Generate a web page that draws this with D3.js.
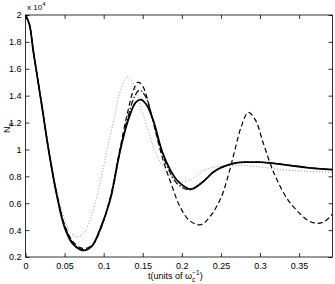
<!DOCTYPE html>
<html><head><meta charset="utf-8">
<script src="https://cdn.jsdelivr.net/npm/d3@7"></script>
<style>body{margin:0;background:#fff}svg{display:block}text{font-family:"Liberation Sans",Arial,sans-serif}</style>
</head><body><svg id="c" width="335" height="284"></svg>
<script>
const xTicks = [0, 0.05, 0.1, 0.15, 0.2, 0.25, 0.3, 0.35];
const yTicks = [0.2, 0.4, 0.6, 0.8, 1, 1.2, 1.4, 1.6, 1.8, 2];
const xMax = 0.3927;

const tSolid = [0,0.005,0.01,0.02,0.03,0.04,0.05,0.06,0.07,0.076,0.085,0.095,0.108,0.121,0.132,0.141,0.148,0.155,0.1635,0.175,0.185,0.1955,0.211,0.225,0.24,0.25,0.265,0.28,0.30,0.32,0.34,0.36,0.3927];
const vSolid = [2.0,1.93,1.73,1.36,0.98,0.66,0.42,0.30,0.255,0.25,0.28,0.40,0.62,0.99,1.23,1.35,1.37,1.33,1.215,0.98,0.85,0.76,0.705,0.75,0.83,0.865,0.895,0.905,0.905,0.895,0.88,0.865,0.85];

const tDashDot = [0,0.005,0.01,0.02,0.03,0.04,0.05,0.06,0.07,0.077,0.086,0.096,0.11,0.12,0.13,0.14,0.146,0.153,0.162,0.172,0.183,0.195,0.21,0.225,0.24,0.25,0.265,0.28,0.30,0.32,0.34,0.36,0.3927];
const vDashDot = [2.0,1.93,1.73,1.36,0.98,0.665,0.43,0.31,0.26,0.255,0.29,0.41,0.66,0.96,1.22,1.40,1.44,1.40,1.24,1.03,0.85,0.74,0.70,0.75,0.83,0.865,0.895,0.905,0.905,0.895,0.88,0.865,0.85];

const tDashed = [0,0.005,0.01,0.02,0.03,0.04,0.05,0.06,0.07,0.078,0.087,0.097,0.11,0.12,0.13,0.138,0.144,0.15,0.158,0.166,0.176,0.186,0.198,0.21,0.224,0.236,0.25,0.26,0.268,0.276,0.285,0.294,0.304,0.314,0.322,0.335,0.348,0.362,0.374,0.384,0.3927];
const vDashed = [2.0,1.93,1.73,1.36,0.98,0.67,0.44,0.32,0.27,0.265,0.30,0.42,0.68,0.98,1.26,1.44,1.50,1.47,1.33,1.14,0.92,0.75,0.57,0.47,0.44,0.50,0.64,0.82,1.00,1.17,1.275,1.22,1.05,0.88,0.77,0.63,0.54,0.47,0.45,0.47,0.52];

const tDotted = [0,0.005,0.01,0.02,0.03,0.04,0.05,0.058,0.066,0.075,0.085,0.095,0.104,0.113,0.122,0.13,0.137,0.145,0.153,0.165,0.178,0.19,0.203,0.215,0.23,0.25,0.275,0.30,0.32,0.35,0.3927];
const vDotted = [2.0,1.93,1.73,1.37,1.0,0.70,0.48,0.38,0.35,0.38,0.52,0.74,0.99,1.22,1.45,1.54,1.50,1.36,1.215,1.00,0.85,0.78,0.76,0.79,0.85,0.875,0.88,0.87,0.855,0.84,0.83];

const W = 335, H = 284;
const m = {l:25.5, r:2.5, t:15, b:27};
const svg = d3.select("#c");
const x = d3.scaleLinear().domain([0, xMax]).range([m.l, W - m.r]);
const y = d3.scaleLinear().domain([0.2, 2]).range([H - m.b, m.t]);

const series = [
  {t:tDotted, v:vDotted, color:"#9a9a9a", w:1, dash:"1,2"},
  {t:tDashed, v:vDashed, color:"#000", w:1.2, dash:"5,3"},
  {t:tDashDot, v:vDashDot, color:"#111", w:1.3, dash:"6,2,1.5,2"},
  {t:tSolid, v:vSolid, color:"#000", w:1.8, dash:null}
];
const line = d3.line().x(d => x(d[0])).y(d => y(d[1])).curve(d3.curveCatmullRom.alpha(0.5));
svg.append("clipPath").attr("id","cp").append("rect")
  .attr("x", m.l).attr("y", m.t).attr("width", W - m.r - m.l).attr("height", H - m.b - m.t);
const g = svg.append("g").attr("clip-path","url(#cp)");
series.forEach(s => {
  g.append("path").datum(s.t.map((t,i) => [t, s.v[i]]))
    .attr("d", line).attr("fill","none").attr("stroke", s.color)
    .attr("stroke-width", s.w).attr("stroke-dasharray", s.dash);
});

const fmt = d => String(d);
const tl = 4;
const axB = d3.axisBottom(x).tickValues(xTicks).tickSize(-tl).tickPadding(6).tickFormat(fmt);
const axT = d3.axisTop(x).tickValues(xTicks).tickSize(-tl).tickFormat("");
const axL = d3.axisLeft(y).tickValues(yTicks).tickSize(-tl).tickPadding(4).tickFormat(fmt);
const axR = d3.axisRight(y).tickValues(yTicks).tickSize(-tl).tickFormat("");
function style(sel){
  sel.select(".domain").remove();
  sel.selectAll("line").attr("stroke","#000").attr("stroke-width",0.8);
  sel.selectAll("text").attr("font-size","9px").attr("fill","#000").style("font-family","'Liberation Sans',Arial,sans-serif");
}
svg.append("g").attr("transform",`translate(0,${H-m.b})`).call(axB).call(style);
svg.append("g").attr("transform",`translate(0,${m.t})`).call(axT).call(style);
svg.append("g").attr("transform",`translate(${m.l},0)`).call(axL).call(style);
svg.append("g").attr("transform",`translate(${W-m.r},0)`).call(axR).call(style);
svg.append("rect").attr("x", m.l).attr("y", m.t).attr("width", W-m.r-m.l).attr("height", H-m.b-m.t)
  .attr("fill","none").attr("stroke","#000").attr("stroke-width",0.8);

const mult = svg.append("text").attr("x", 27).attr("y", 10).attr("font-size","8px");
mult.append("tspan").text("x 10");
mult.append("tspan").attr("dy", -4).attr("font-size","6px").text("4");

const yl = svg.append("text").attr("transform","translate(10,128) rotate(-90)").attr("text-anchor","middle").attr("font-size","9px");
yl.append("tspan").text("N");
yl.append("tspan").attr("dy",3).attr("font-size","6.5px").text("a");

const xl = svg.append("text").attr("x", 148).attr("y", 279).attr("font-size","9px");
xl.append("tspan").text("t(units of ω");
xl.append("tspan").attr("dy",2.5).attr("font-size","6.5px").text("c");
xl.append("tspan").attr("dy",-7).attr("dx",-3).attr("font-size","6.5px").text("−1");
xl.append("tspan").attr("dy",4.5).text(")");
</script></body></html>
